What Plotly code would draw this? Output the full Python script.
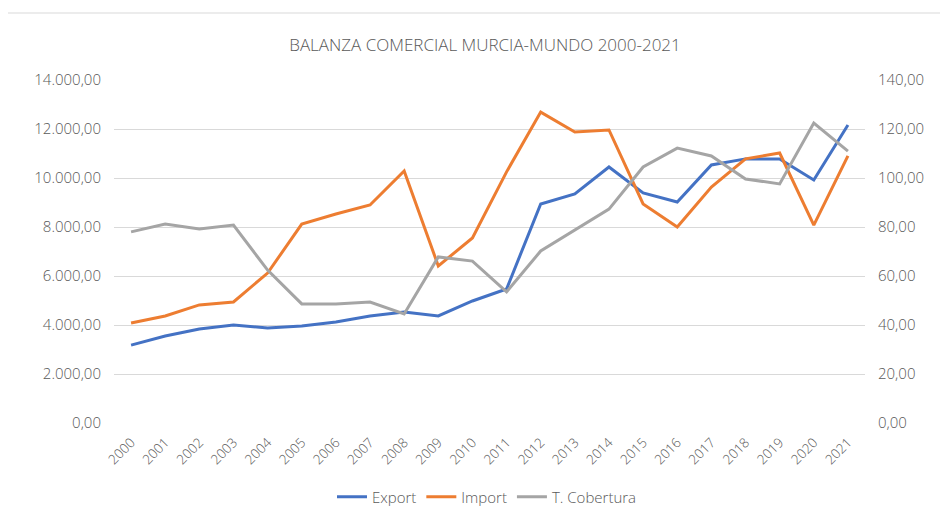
import plotly.graph_objects as go

years = [str(y) for y in range(2000, 2022)]
export_vals = [3180, 3550, 3840, 4000, 3880, 3960, 4120, 4370, 4530, 4370, 4980, 5470,
               8940, 9350, 10450, 9390, 9020, 10530, 10780, 10780, 9920, 12160]
import_vals = [4080, 4370, 4820, 4940, 6120, 8120, 8530, 8900, 10290, 6410, 7550, 10250,
               12690, 11880, 11960, 8940, 8000, 9630, 10780, 11020, 8080, 10900]
cobertura_vals = [78.0, 81.2, 79.2, 80.8, 62.4, 48.6, 48.6, 49.4, 44.5, 67.8, 66.1, 53.5,
                  70.2, 78.8, 87.3, 104.5, 112.2, 109.0, 99.6, 97.6, 122.4, 111.0]

txt = "#595959"
grid = "#D9D9D9"
fnt = "Open Sans"
WT = 300

W, H = 940, 503
OFF = 8  # page body offset
L, R, T, B = 114 - OFF, 83, 80 - OFF, 88
pw = W - L - R
ph = H - T - B

fig = go.Figure()
fig.add_trace(go.Scatter(x=years, y=export_vals, name="Export", mode="lines",
                         line=dict(color="#4472C4", width=3)))
fig.add_trace(go.Scatter(x=years, y=import_vals, name="Import", mode="lines",
                         line=dict(color="#ED7D31", width=3)))
fig.add_trace(go.Scatter(x=years, y=cobertura_vals, name="T. Cobertura", mode="lines",
                         line=dict(color="#A5A5A5", width=3), yaxis="y2"))

fig.update_layout(
    width=W, height=H,
    margin=dict(l=L, r=R, t=T, b=B, autoexpand=False),
    paper_bgcolor="white", plot_bgcolor="white",
    separators=",.",
    font=dict(family=fnt, color=txt, size=15, weight=WT),
    title=dict(text="BALANZA COMERCIAL MURCIA-MUNDO 2000-2021", x=(485 - OFF - L) / pw,
               xref="paper", xanchor="center",
               y=1 - (45 - OFF) / H, yanchor="middle",
               font=dict(size=17, color=txt, family=fnt, weight=WT)),
    xaxis=dict(type="category", range=[-0.5, 21.5], showgrid=False, showline=False, ticks="",
               tickangle=-45, tickfont=dict(size=13.5, color=txt, weight=WT), zeroline=False,
               ticklabelstandoff=8, automargin=False),
    yaxis=dict(range=[0, 14000], dtick=2000, tickformat=",.2f", showgrid=True, gridcolor=grid,
               gridwidth=1, zeroline=False, showline=False, ticks="", ticklabelstandoff=12,
               tickfont=dict(size=15, color=txt, weight=WT), automargin=False),
    yaxis2=dict(range=[0, 140], dtick=20, tickformat=",.2f", overlaying="y", side="right",
                showgrid=False, zeroline=False, showline=False, ticks="", ticklabelstandoff=12,
                tickfont=dict(size=15, color=txt, weight=WT), automargin=False),
    legend=dict(orientation="h", x=(487 - OFF - L) / pw, xanchor="center",
                y=-(497 - 423) / ph, yanchor="middle",
                font=dict(size=15, color=txt, weight=WT), itemwidth=30,
                bgcolor="rgba(0,0,0,0)"),
    shapes=[dict(type="rect", xref="paper", yref="paper",
                 x0=(5 - 114) / pw, x1=(945 - 114) / pw,
                 y0=-(530 - 423) / ph, y1=(423 - 13) / ph,
                 line=dict(color="#D9D9D9", width=1), layer="below")],
)

fig.write_html("out.html")
